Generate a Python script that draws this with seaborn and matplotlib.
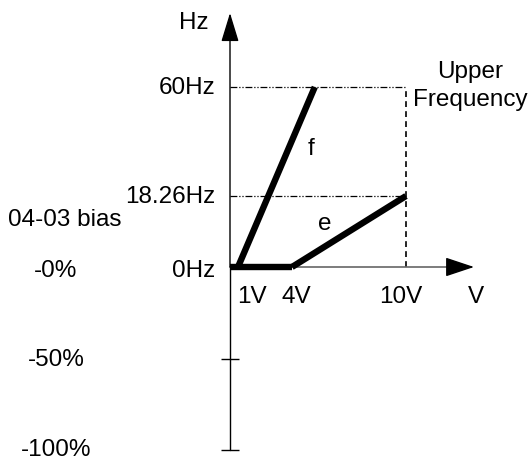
import numpy as np
import matplotlib
matplotlib.use("Agg")
import matplotlib.pyplot as plt
import seaborn as sns

# Chart values
volt_ticks = [1, 4, 10]
volt_labels = ["1V", "4V", "10V"]
hz_ticks = [0, 18.26, 60]
hz_labels = ["0Hz", "18.26Hz", "60Hz"]
bias_ticks = [0, -50, -100]
bias_labels = ["-0%", "-50%", "-100%"]

zero_volts = [0, 4]
zero_hz = [0, 0]
f_volts = [1, 5.2]
f_hz = [0, 60]
e_volts = [4, 10]
e_hz = [0, 18.26]
upper_volt = 10
upper_hz = 60

# Layout (pixels), figure is 528 x 463
W, H = 528, 463
ORIGIN_X, ORIGIN_Y = 230, 267
# schematic (non linear) spacing of the drawing
X_KNOTS = ([0, 1, 4, 10], [0, 8, 62, 176])
Y_KNOTS = ([0, 18.26, 60], [0, 71, 180])
BIAS_PX_PER_PCT = 1.83

sns.set_theme(style="white")
plt.rcParams["font.family"] = ["Liberation Sans", "DejaVu Sans"]
plt.rcParams["text.color"] = "black"
fontsize = 17.5


def piecewise(knots_in, knots_out):
    """
    Piecewise linear mapping, extended linearly past the end knots.
    """
    kin = np.asarray(knots_in, float)
    kout = np.asarray(knots_out, float)
    s0 = (kout[1] - kout[0]) / (kin[1] - kin[0])
    s1 = (kout[-1] - kout[-2]) / (kin[-1] - kin[-2])

    def f(v):
        v = np.asarray(v, float)
        out = np.interp(v, kin, kout)
        out = np.where(v < kin[0], kout[0] + (v - kin[0]) * s0, out)
        out = np.where(v > kin[-1], kout[-1] + (v - kin[-1]) * s1, out)
        return out
    return f


x_fwd, x_inv = piecewise(*X_KNOTS), piecewise(X_KNOTS[1], X_KNOTS[0])
y_fwd, y_inv = piecewise(*Y_KNOTS), piecewise(Y_KNOTS[1], Y_KNOTS[0])

fig = plt.figure(figsize=(W / 100, H / 100), dpi=100)
ax = fig.add_axes([0, 0, 1, 1])
ax.set_xscale("function", functions=(x_fwd, x_inv))
ax.set_yscale("function", functions=(y_fwd, y_inv))
ax.set_xlim(float(x_inv(-ORIGIN_X)), float(x_inv(W - ORIGIN_X)))
ax.set_ylim(float(y_inv(-(H - ORIGIN_Y))), float(y_inv(ORIGIN_Y)))
ax.axis("off")

ax2 = ax.twinx()
ax2.set_ylim(-(H - ORIGIN_Y) / BIAS_PX_PER_PCT, ORIGIN_Y / BIAS_PX_PER_PCT)
ax2.axis("off")

# Guide lines
dashdotdot = (0, (5.5, 1.5, 1, 1.5, 1, 1.5))
for hz in [upper_hz, e_hz[-1]]:
    sns.lineplot(x=[0, upper_volt], y=[hz, hz], ax=ax, color="black",
                 lw=0.9, linestyle=dashdotdot, estimator=None, sort=False)
ax.plot([upper_volt, upper_volt], [0, upper_hz], color="black", lw=1.2,
        linestyle=(0, (3.5, 2.5)))

# x axis (gray shaft, black head)
head_x = 474 / W
ax.plot([0, x_inv(head_x * W - ORIGIN_X - 24)], [0, 0], color="#666666", lw=1.2)
ax.annotate("", xy=(head_x, 0), xycoords=ax.get_yaxis_transform(),
            xytext=(head_x - 25 / W, 0), textcoords=ax.get_yaxis_transform(),
            arrowprops=dict(arrowstyle="-|>,head_length=1.8,head_width=0.6",
                            mutation_scale=10, color="black", lw=1,
                            shrinkA=0, shrinkB=0))

# y axis
ax2.plot([0, 0], [bias_ticks[-1], 0], color="black", lw=1)
head_y = 1 - 13 / H
ax.annotate("", xy=(0, head_y), xycoords=ax.get_xaxis_transform(),
            xytext=(0, 0), textcoords="data",
            arrowprops=dict(arrowstyle="-|>,head_length=1.8,head_width=0.55",
                            mutation_scale=10, color="black", lw=1,
                            shrinkA=0, shrinkB=0))
ax2.plot([0, 0], bias_ticks[1:], ls="none", marker="_", ms=12.5, mew=1,
         color="black")

# Curves
for xs, ys in [(zero_volts, zero_hz), (f_volts, f_hz), (e_volts, e_hz)]:
    sns.lineplot(x=xs, y=ys, ax=ax, color="black", lw=4.6,
                 estimator=None, sort=False, solid_capstyle="butt")

# Labels
hz_dy = [-4, -1, -1]
for hz, lab, dy in zip(hz_ticks, hz_labels, hz_dy):
    ax.annotate(lab, xy=(0, hz), xytext=(-15, dy), textcoords="offset pixels",
                ha="right", va="center", fontsize=fontsize, color="black")
volt_dx = [14, 4, -5]
for v, lab, dx in zip(volt_ticks, volt_labels, volt_dx):
    ax.annotate(lab, xy=(v, 0), xytext=(dx, -30), textcoords="offset pixels",
                ha="center", va="center", fontsize=fontsize, color="black")
bias_dy = [4, 1, 0]
for b, lab, dy in zip(bias_ticks, bias_labels, bias_dy):
    ax2.annotate(lab, xy=(56 / W, b), xycoords=ax2.get_yaxis_transform(),
                 xytext=(0, -dy), textcoords="offset pixels",
                 ha="center", va="center", fontsize=fontsize, color="black")

ax.text(head_x + 2 / W, 1 - 297 / H, "V", transform=ax.transAxes,
        ha="center", va="center", fontsize=fontsize)
ax.text(209 / W, 1 - 23 / H, "Hz", transform=ax.transAxes,
        ha="right", va="center", fontsize=fontsize)
ax.text(65 / W, 1 - 220 / H, "04-03 bias", transform=ax.transAxes,
        ha="center", va="center", fontsize=fontsize)
ax.text(470 / W, 1 - 86 / H, "Upper\nFrequency", transform=ax.transAxes,
        ha="center", va="center", fontsize=fontsize, linespacing=1.3)
ax.text(311 / W, 1 - 149 / H, "f", transform=ax.transAxes,
        ha="center", va="center", fontsize=fontsize)
ax.text(325 / W, 1 - 224 / H, "e", transform=ax.transAxes,
        ha="center", va="center", fontsize=fontsize)

plt.savefig("out.png", dpi=100)
